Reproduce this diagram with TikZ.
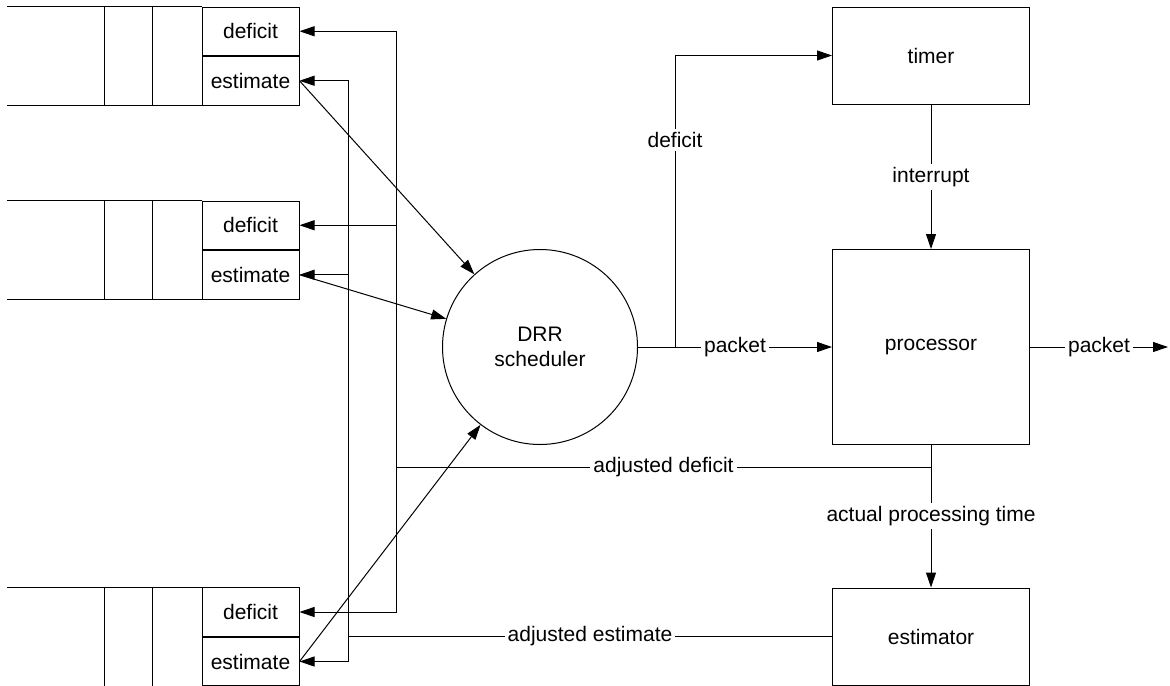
\documentclass[tikz,border=0pt]{standalone}
\usepackage{fontspec}
\setmainfont{Liberation Sans}
\usetikzlibrary{arrows.meta}

\begin{document}
\begin{tikzpicture}[
            x=0.5pt, y=-0.5pt, line width=0.5pt,
            font=\fontsize{10.5}{12.6}\selectfont,
            field/.style={rectangle, draw, minimum width=48.5pt,
                          minimum height=24.25pt, inner sep=0pt},
            block/.style={rectangle, draw, minimum width=98.5pt, inner sep=0pt},
            edge/.style={-{Triangle[length=7.5pt, width=5pt]}},
            lbl/.style={fill=white, inner sep=1.5pt}
        ]
            \useasboundingbox (0,0) rectangle (1170,685);

            \foreach \q/\y in {1/31.25, 2/225.25, 3/612} {
                \node[field] (d\q) at (250.5,\y) {deficit};
                \node[field, anchor=north] (e\q) at (d\q.south) {estimate};
                \draw (d\q.north west) -- ++(-195,0);
                \draw (e\q.south west) -- ++(-195,0);
                \draw ([xshift=-24.5pt]d\q.north west) -- ([xshift=-24.5pt]e\q.south west);
                \draw ([xshift=-48.5pt]d\q.north west) -- ([xshift=-48.5pt]e\q.south west);
            }

            \node[circle, draw, minimum size=97.5pt, inner sep=0pt, align=center] (drr) at (540,347) {DRR\\scheduler};
            \node[block, minimum height=48.5pt] (timer) at (931,55.5) {timer};
            \node[block, minimum height=97.5pt] (proc) at (931,347) {processor};
            \node[block, minimum height=48.5pt] (estm) at (931,636.5) {estimator};

            \coordinate (fork) at (675,347);
            \coordinate (dtee) at (931,467);
            \coordinate (dbus) at (396,467);
            \coordinate (ebus) at (348,636.5);
            \coordinate (out) at (1168,347);

            \draw[edge] (drr) -- node[lbl]{packet} (proc);
            \draw[edge] (fork) |- node[lbl, pos=0.355]{deficit} (timer);
            \draw[edge] (proc) -- node[lbl]{packet} (out);
            \draw[edge] (timer) -- node[lbl]{interrupt} (proc);
            \draw[edge] (proc) -- node[lbl]{actual processing time} (estm);
            \draw (dtee) -- node[lbl]{adjusted deficit} (dbus);
            \draw (estm) -- node[lbl]{adjusted estimate} (ebus);

            \foreach \q in {1,2,3} {
                \draw[edge] (dbus) |- (d\q);
                \draw[edge] (ebus) |- (e\q);
                \draw[edge] (e\q.east) -- (drr);
            }
        \end{tikzpicture}
\end{document}
